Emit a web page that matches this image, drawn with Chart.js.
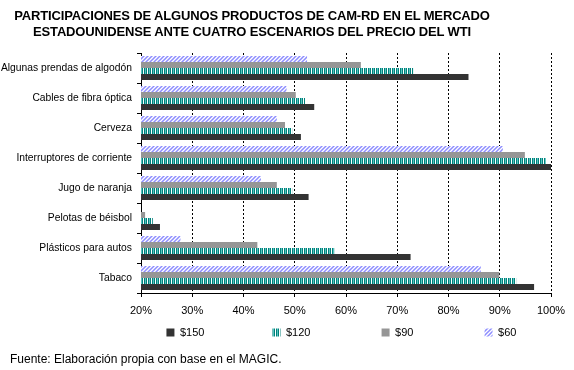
<!DOCTYPE html>
<html lang="es">
<head>
    <meta charset="UTF-8">
    <title>Participaciones CAM-RD</title>
    <script src="https://cdn.jsdelivr.net/npm/chart.js"></script>
    <style>
        * {
            margin: 0;
            padding: 0;
            box-sizing: border-box;
        }
        body {
            background-color: #fff;
            font-family: 'Liberation Sans', Arial, sans-serif;
        }
        .marco {
            position: relative;
            width: 574px;
            height: 370px;
        }
        .titulo {
            position: absolute;
            top: 8px;
            left: 0;
            width: 504px;
            text-align: center;
            font-weight: bold;
            font-size: 13px;
            letter-spacing: -0.15px;
            line-height: 16px;
            color: #000;
        }
        .fuente {
            position: absolute;
            left: 10px;
            top: 352px;
            font-size: 12px;
            color: #000;
        }
        canvas {
            position: absolute;
            top: 0;
            left: 0;
        }
    </style>
</head>
<body>
    <div class="marco">
        <canvas id="grafico" width="574" height="370"></canvas>
        <div class="titulo">PARTICIPACIONES DE ALGUNOS PRODUCTOS DE CAM-RD EN EL MERCADO<br>ESTADOUNIDENSE ANTE CUATRO ESCENARIOS DEL PRECIO DEL WTI</div>
        <div class="fuente">Fuente: Elaboración propia con base en el MAGIC.</div>
    </div>

    <script>
        // datos (porcentajes)
        const productos = ['Algunas prendas de algodón', 'Cables de fibra óptica', 'Cerveza',
            'Interruptores de corriente', 'Jugo de naranja', 'Pelotas de béisbol',
            'Plásticos para autos', 'Tabaco'];
        const escenarios = ['$150', '$120', '$90', '$60'];
        const p150 = [83.9, 53.8, 51.2, 100.0, 52.7, 23.7, 72.6, 96.7];
        const p120 = [73.1, 52.0, 49.5, 99.0, 49.5, 22.3, 57.7, 93.2];
        const p90  = [62.9, 50.2, 48.1, 94.9, 46.5, 20.8, 42.7, 89.9];
        const p60  = [52.4, 48.4, 46.5, 90.6, 43.4, 20.0, 27.7, 86.3];
        const ticksX = [20, 30, 40, 50, 60, 70, 80, 90, 100];

        // tramas de relleno
        function rayado() {
            const c = document.createElement('canvas');
            c.width = 4; c.height = 4;
            const g = c.getContext('2d');
            g.fillStyle = '#fff';
            g.fillRect(0, 0, 4, 4);
            g.strokeStyle = '#8c8cff';
            g.lineWidth = 1.5;
            g.beginPath();
            g.moveTo(0, 4); g.lineTo(4, 0);
            g.moveTo(-1, 1); g.lineTo(1, -1);
            g.moveTo(3, 5); g.lineTo(5, 3);
            g.stroke();
            return g.createPattern(c, 'repeat');
        }
        function barras() {
            const c = document.createElement('canvas');
            c.width = 4; c.height = 1;
            const g = c.getContext('2d');
            const cols = ['#00807a', '#5cc4c0', '#00807a', '#ffffff'];
            cols.forEach((col, i) => { g.fillStyle = col; g.fillRect(i, 0, 1, 1); });
            return g.createPattern(c, 'repeat');
        }

        // espacio extra para separar la leyenda como en el original
        const relleno = [19, 20, 20, 3];

        const ctx = document.getElementById('grafico').getContext('2d');
        new Chart(ctx, {
            type: 'bar',
            data: {
                labels: productos,
                datasets: [
                    { label: escenarios[3], data: p60, backgroundColor: rayado() },
                    { label: escenarios[2], data: p90, backgroundColor: '#969696' },
                    { label: escenarios[1], data: p120, backgroundColor: barras() },
                    { label: escenarios[0], data: p150, backgroundColor: '#333333' }
                ]
            },
            options: {
                indexAxis: 'y',
                responsive: false,
                animation: false,
                devicePixelRatio: 1,
                layout: {
                    padding: { top: 53, right: 23, bottom: 22, left: 0 }
                },
                datasets: {
                    bar: { categoryPercentage: 0.8, barPercentage: 1.0, borderWidth: 0 }
                },
                scales: {
                    x: {
                        min: 20,
                        max: 100,
                        afterBuildTicks: (s) => { s.ticks = ticksX.map(v => ({ value: v })); },
                        afterFit: (s) => { s.height = 24; },
                        ticks: {
                            color: '#000',
                            padding: 7,
                            font: { family: 'Liberation Sans', size: 11 },
                            callback: (v) => v + '%'
                        },
                        grid: {
                            color: '#000',
                            tickLength: 4,
                            tickColor: '#000'
                        },
                        border: { color: '#000', dash: [2, 2] }
                    },
                    y: {
                        afterFit: (s) => { s.width = 141; },
                        ticks: {
                            color: '#000',
                            padding: 5,
                            font: { family: 'Liberation Sans', size: 10.3 }
                        },
                        grid: {
                            offset: true,
                            drawOnChartArea: false,
                            tickLength: 4,
                            tickColor: '#000'
                        },
                        border: { color: '#000' }
                    }
                },
                plugins: {
                    legend: {
                        position: 'bottom',
                        fullSize: false,
                        reverse: true,
                        labels: {
                            boxWidth: 8,
                            boxHeight: 8,
                            padding: 10,
                            color: '#000',
                            font: { family: 'Liberation Sans', size: 11 },
                            generateLabels: (chart) => {
                                const items = Chart.defaults.plugins.legend.labels.generateLabels(chart);
                                items.forEach(it => {
                                    const k = escenarios.indexOf(it.text);
                                    it.text = it.text + '\u00a0'.repeat(relleno[k]);
                                    it.lineWidth = 0;
                                });
                                return items;
                            }
                        }
                    },
                    tooltip: { enabled: false }
                }
            }
        });
    </script>
</body>
</html>
